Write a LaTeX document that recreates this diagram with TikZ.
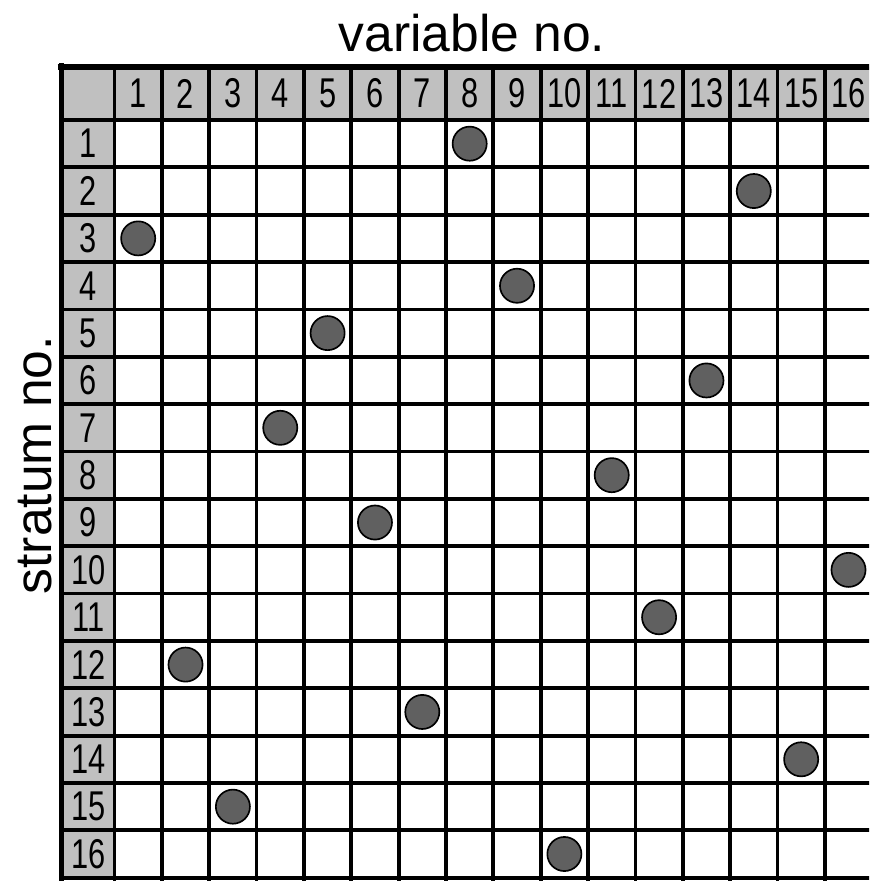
\documentclass[tikz,border=0pt]{standalone}
\usepackage{fontspec}
\setmainfont{Liberation Sans}
\definecolor{headgray}{HTML}{C0C0C0}
\definecolor{dotgray}{HTML}{606060}
\tikzset{
  gridline/.style={line width=2.3pt},
  numlabel/.style={font=\fontsize{25}{25}\selectfont, xscale=0.74},
  dot/.style={circle, draw=black, line width=1pt, fill=dotgray, minimum size=0.72cm, inner sep=0pt},
}
\begin{document}
\begin{tikzpicture}
\useasboundingbox (-2.418,2.534) rectangle (15.935,-16.07);
\clip (-2.418,2.534) rectangle (15.935,-16.07);
% header row and column
\fill[headgray] (-1.11,1.12) rectangle (16.1,0);
\fill[headgray] (-1.11,1.12) rectangle (0,-16);
% grid
\foreach \i in {0,...,16} {
  \draw[gridline] (\i,1.12) -- (\i,-16.1);
  \draw[gridline] (-1.11,-\i) -- (16.1,-\i);
}
\draw[line width=3.6pt] (-1.2,1.12) -- (16.1,1.12);
\draw[line width=3pt] (-1.11,1.2) -- (-1.11,-16.1);
% labels
\node[font=\fontsize{31}{31}\selectfont] (title) at (7.55,1.84) {variable no.};
\node[font=\fontsize{31}{31}\selectfont, rotate=90] (ylabel) at (-1.68,-7.29) {stratum no.};
\foreach \i in {1,...,16} {
  \node[numlabel] (c\i) at (\i-0.5,0.56) {\i};
  \node[numlabel] (r\i) at (-0.555,0.5-\i) {\i};
}
% one dot per stratum
\foreach \r/\c in {1/8,2/14,3/1,4/9,5/5,6/13,7/4,8/11,9/6,10/16,11/12,12/2,13/7,14/15,15/3,16/10}
  \node[dot] (d\r) at (\c-0.5,0.5-\r) {};
\end{tikzpicture}
\end{document}
